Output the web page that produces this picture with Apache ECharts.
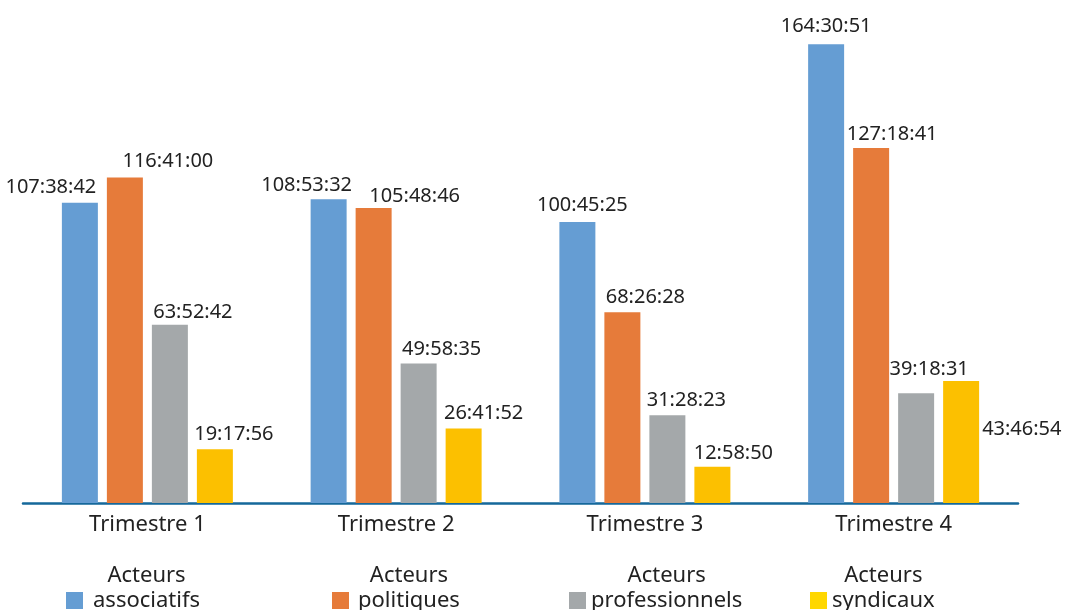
<!DOCTYPE html>
<html>
<head>
<meta charset="utf-8">
<script src="https://cdn.jsdelivr.net/npm/echarts@6/dist/echarts.min.js"></script>
<style>
html,body{margin:0;padding:0;background:#fff;}
#chart{width:1068px;height:610px;}
</style>
</head>
<body>
<div id="chart"></div>
<script>
// ---- Data ----
const categories = ['Trimestre 1', 'Trimestre 2', 'Trimestre 3', 'Trimestre 4'];
const seriesNames = ['Acteurs\nassociatifs', 'Acteurs\npolitiques', 'Acteurs\nprofessionnels', 'Acteurs\nsyndicaux'];
const associatifs = ['107:38:42', '108:53:32', '100:45:25', '164:30:51'];
const politiques = ['116:41:00', '105:48:46', '68:26:28', '127:18:41'];
const professionnels = ['63:52:42', '49:58:35', '31:28:23', '39:18:31'];
const syndicaux = ['19:17:56', '26:41:52', '12:58:50', '43:46:54'];

// ---- Styling / layout ----
const barColors = ['#659dd3', '#e67b3a', '#a4a8aa', '#fcc000'];
const legendColors = ['#659dd3', '#e67b3a', '#a4a8aa', '#ffd700'];
const legendLeft = [66, 332, 569, 810];
const legendTextPadLeft = [5, 4, 0, 0];
// label offsets [dx, dy] per series per category (position 'top')
const labelOffsets = [
  [[-29, 0], [-22, 1], [5, -2], [0, -3]],
  [[43, -1], [41, 3], [23, 0], [21, 1]],
  [[23, 2], [23, 1], [19, 0], [13, -9]],
  [[19, 0], [20, 0], [21, 1], null]
];

function toHours(s) {
  const p = s.split(':').map(Number);
  return p[0] + p[1] / 60 + p[2] / 3600;
}

const allData = [associatifs, politiques, professionnels, syndicaux];
const FONT = 'Noto Sans';

const series = allData.map((arr, si) => ({
  name: seriesNames[si],
  type: 'bar',
  barWidth: 36,
  barGap: '25%',
  itemStyle: { color: barColors[si] },
  data: arr.map((s, ci) => {
    const off = labelOffsets[si][ci];
    const lbl = off ? {
      show: true, position: 'top', distance: 5, offset: off
    } : {
      show: true, position: 'right', distance: 3, offset: [0, -13]
    };
    return { value: toHours(s), raw: s, label: lbl };
  }),
  label: {
    show: true,
    formatter: p => p.data.raw,
    color: '#222',
    fontFamily: FONT,
    fontSize: 20
  }
}));

const legends = seriesNames.map((n, i) => ({
  show: true,
  left: legendLeft[i],
  top: 563,
  padding: 0,
  orient: 'horizontal',
  itemWidth: 17,
  itemHeight: 17,
  icon: 'rect',
  selectedMode: false,
  data: [{ name: n, itemStyle: { color: legendColors[i] } }],
  formatter: name => name.split('\n').map(l => '{c|' + l + '}').join('\n'),
  textStyle: {
    color: '#222',
    fontFamily: FONT,
    fontSize: 22,
    lineHeight: 25,
    padding: [0, 0, 25, legendTextPadLeft[i]],
    rich: { c: { align: 'center', fontFamily: FONT, fontSize: 22, lineHeight: 25, color: '#222' } }
  }
}));

const chart = echarts.init(document.getElementById('chart'), null, { renderer: 'canvas' });
chart.setOption({
  animation: false,
  backgroundColor: '#fff',
  grid: { left: 23, right: 50, top: 1, bottom: 107, containLabel: false },
  legend: legends,
  xAxis: {
    type: 'category',
    data: categories,
    axisLine: { show: true, lineStyle: { color: '#15689b', width: 2.5 } },
    axisTick: { show: false },
    axisLabel: { color: '#222', fontFamily: FONT, fontSize: 22, margin: 11 }
  },
  yAxis: {
    type: 'value',
    min: 0,
    max: 180,
    show: false,
    splitLine: { show: false }
  },
  series: series
});
</script>
</body>
</html>
